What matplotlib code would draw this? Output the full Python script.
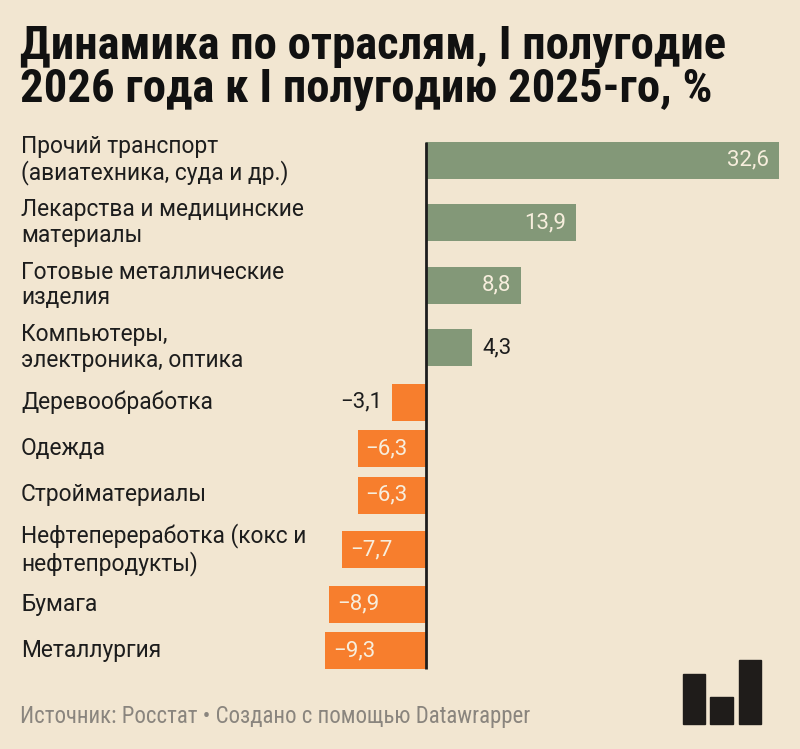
import matplotlib.pyplot as plt
from matplotlib.patches import Rectangle
import matplotlib.transforms as mtransforms

# данные
categories = [
    'Прочий транспорт\n(авиатехника, суда и др.)',
    'Лекарства и медицинские\nматериалы',
    'Готовые металлические\nизделия',
    'Компьютеры,\nэлектроника, оптика',
    'Деревообработка',
    'Одежда',
    'Стройматериалы',
    'Нефтепереработка (кокс и\nнефтепродукты)',
    'Бумага',
    'Металлургия',
]
values = [32.6, 13.9, 8.8, 4.3, -3.1, -6.3, -6.3, -7.7, -8.9, -9.3]

title = 'Динамика по отраслям, I полугодие\n2026 года к I полугодию 2025-го, %'
footer = 'Источник: Росстат • Создано с помощью Datawrapper'

BG = '#f2e6d1'
GREEN = '#839878'
ORANGE = '#f77e2d'
INK = '#1d1d1d'
COND = ['Roboto Condensed', 'DejaVu Sans']

plt.rcParams['font.family'] = ['Roboto', 'DejaVu Sans']

W, H = 800, 749
fig = plt.figure(figsize=(W / 100, H / 100), dpi=100, facecolor=BG)

# высота строки зависит от числа строк в подписи
row_h = [62.5 if '\n' in c else 46.5 for c in categories]
ypos = []
acc = 0
for h in row_h:
    ypos.append(acc + h / 2)
    acc += h
total = acc
bar_h = 37

top_px = 128.75
left_px, right_px = 325, 779
ax = fig.add_axes([left_px / W, 1 - (top_px + total) / H,
                   (right_px - left_px) / W, total / H])
ax.set_facecolor(BG)
ax.set_xlim(min(values), max(values))
ax.set_ylim(total, 0)
ax.axis('off')

colors = [GREEN if v > 0 else ORANGE for v in values]
ax.barh(ypos, values, height=bar_h, color=colors, zorder=2)
ax.plot([0, 0], [ypos[0] - bar_h / 2, ypos[-1] + bar_h / 2],
        color=INK, lw=2, zorder=3, solid_capstyle='butt')

# подписи значений
for y, v in zip(ypos, values):
    s = f'{abs(v):.1f}'.replace('.', ',')
    if v < 0:
        s = '\u2212' + s
    inside = abs(v) > 5
    if v > 0:
        off, ha = (-10, 'right') if inside else (10, 'left')
    else:
        off, ha = (8, 'left') if inside else (-10, 'right')
    ax.annotate(s, (v, y), xytext=(off * 0.72, 0), textcoords='offset points',
                ha=ha, va='center', fontsize=16,
                color='#f7eedd' if inside else INK, zorder=4)

# подписи категорий
tr = mtransforms.blended_transform_factory(fig.transFigure, ax.transData)
for y, c in zip(ypos, categories):
    ax.text(21 / W, y, c, transform=tr, ha='left', va='center',
            fontsize=16.4, color=INK, linespacing=1.15)

fig.text(20 / W, 1 - 24 / H, title, ha='left', va='top',
         family=COND, fontweight='bold',
         fontsize=33.7, color='#111111', linespacing=0.97)

fig.text(20 / W, 1 - 717 / H, footer, ha='left', va='center',
         family=COND, fontsize=16.5, color='#8a857e')

# логотип Datawrapper
for x0, x1, t in [(683, 705, 674), (710, 733, 697), (739, 761, 660)]:
    fig.patches.append(Rectangle((x0 / W, 1 - 724 / H), (x1 - x0) / W, (724 - t) / H,
                                 transform=fig.transFigure, color='#1f1c1a'))

fig.savefig('out.png', dpi=100, facecolor=BG)
